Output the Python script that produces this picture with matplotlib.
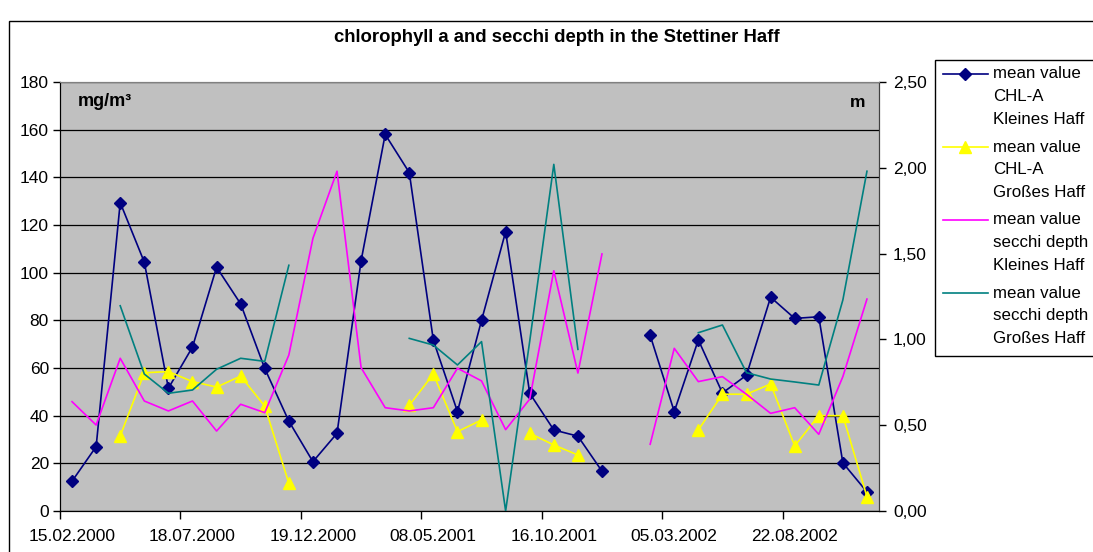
import numpy as np
import matplotlib
matplotlib.use('Agg')
import matplotlib.pyplot as plt
from matplotlib.lines import Line2D
from matplotlib.patches import Rectangle
from matplotlib.ticker import FuncFormatter

plt.rcParams['font.family'] = ['Liberation Sans', 'DejaVu Sans']

nan = np.nan

# monthly samples, only every 5th date is labelled on the axis
tick_labels = ['15.02.2000', '18.07.2000', '19.12.2000', '08.05.2001',
               '16.10.2001', '05.03.2002', '22.08.2002']

# mg/m3 (left axis)
chl_kleines = [12.5, 27, 129.4, 104.4, 51.5, 68.8, 102.3, 86.9, 59.8, 37.7,
               20.7, 32.6, 105, 158, 142, 71.6, 41.7, 80, 117.2, 49.4,
               34, 31.4, 16.7, nan, 73.7, 41.7, 71.8, 49.5, 57, 89.7,
               80.8, 81.5, 20.2, 8]
chl_grosses = [nan, nan, 31.5, 58, 58.5, 54.3, 52, 56.6, 44, 11.6,
               nan, nan, nan, nan, 44.3, 57.5, 33.3, 38.2, nan, 32.6,
               27.7, 23.5, nan, nan, nan, nan, 34, 49, 49, 53.3,
               27.3, 40, 40, 6]

# m (right axis)
secchi_kleines = [0.637, 0.501, 0.89, 0.641, 0.583, 0.641, 0.466, 0.622, 0.573, 0.909,
                  1.589, 1.98, 0.835, 0.602, 0.583, 0.602, 0.832, 0.758, 0.474, 0.652,
                  1.40, 0.804, 1.498, nan, 0.389, 0.948, 0.754, 0.783, 0.68, 0.569,
                  0.602, 0.447, 0.783, 1.235]
secchi_grosses = [nan, nan, 1.196, 0.798, 0.686, 0.705, 0.826, 0.89, 0.872, 1.432,
                  nan, nan, nan, nan, 1.006, 0.967, 0.851, 0.987, 0.0, 0.99,
                  2.02, 0.942, nan, nan, nan, nan, 1.039, 1.084, 0.806, 0.769,
                  0.752, 0.734, 1.23, 1.98]

W, H = 1093, 552


def fx(px):
    return px / W


def fy(py):
    return 1 - py / H


fig = plt.figure(figsize=(W / 100, H / 100), dpi=100)
fig.patch.set_facecolor('white')

# outer chart border (runs off the right and bottom edge)
fig.add_artist(Rectangle((fx(9), -0.1), 1.2, fy(21) + 0.1, transform=fig.transFigure,
                         fill=False, edgecolor='black', linewidth=1.0))

ax1 = fig.add_axes([fx(60), fy(511), fx(879) - fx(60), fy(82) - fy(511)])
ax1.set_facecolor('#C0C0C0')
ax2 = ax1.twinx()

x = np.arange(len(chl_kleines))

ax1.plot(x, chl_kleines, color='#000080', linewidth=1.2, marker='D', markersize=6)
ax1.plot(x, chl_grosses, color='#FFFF00', linewidth=1.2, marker='^', markersize=8)
ax2.plot(x, secchi_kleines, color='#FF00FF', linewidth=1.2)
ax2.plot(x, secchi_grosses, color='#008080', linewidth=1.2)

ax1.set_xlim(-0.5, len(x) - 0.5)
ax1.set_ylim(0, 180)
ax2.set_ylim(0, 2.5)

ax1.set_yticks(np.arange(0, 181, 20))
ax2.set_yticks(np.arange(0, 2.51, 0.5))
ax2.yaxis.set_major_formatter(FuncFormatter(lambda v, p: '{:.2f}'.format(v).replace('.', ',')))

# tick marks between categories, labels on categories
ax1.set_xticks(np.arange(-0.5, len(x) - 1, 5))
ax1.set_xticklabels([])
ax1.set_xticks(np.arange(0, len(x), 5), minor=True)
ax1.set_xticklabels(tick_labels, minor=True)
ax1.tick_params(axis='x', which='major', direction='out', length=6, width=1)
ax1.tick_params(axis='x', which='minor', length=0, pad=13, labelsize=12.5)
ax1.tick_params(axis='y', direction='out', length=5, width=1, pad=3, labelsize=12.5)
ax2.tick_params(axis='y', direction='out', length=5, width=1, pad=5, labelsize=12.5)

ax1.set_axisbelow(True)
ax1.yaxis.grid(True, color='black', linewidth=0.9)

for ax in (ax1, ax2):
    ax.spines['top'].set_color('#808080')
    ax.spines['right'].set_color('#404040')
    ax.spines['left'].set_color('black')
    ax.spines['bottom'].set_color('black')

ax1.text(0.022, 0.955, 'mg/m³', transform=ax1.transAxes, fontsize=13,
         fontweight='bold', va='center', ha='left')
ax1.text(0.983, 0.952, 'm', transform=ax1.transAxes, fontsize=12.5,
         fontweight='bold', va='center', ha='right')

fig.text(fx(557), fy(38), 'chlorophyll a and secchi depth in the Stettiner Haff',
         ha='center', va='center', fontsize=13.3, fontweight='bold')

# legend, drawn by hand so the key sits on the first text line
fig.add_artist(Rectangle((fx(935), fy(356)), 0.3, fy(60) - fy(356), transform=fig.transFigure,
                         fill=True, facecolor='white', edgecolor='black', linewidth=1.0))
legend_items = [
    ('#000080', 'D', 6, ['mean value', 'CHL-A', 'Kleines Haff']),
    ('#FFFF00', '^', 8, ['mean value', 'CHL-A', 'Großes Haff']),
    ('#FF00FF', None, 0, ['mean value', 'secchi depth', 'Kleines Haff']),
    ('#008080', None, 0, ['mean value', 'secchi depth', 'Großes Haff']),
]
y0 = 74
for color, marker, ms, lines in legend_items:
    fig.add_artist(Line2D([fx(943), fx(988)], [fy(y0), fy(y0)], color=color,
                          linewidth=1.2, transform=fig.transFigure))
    if marker:
        fig.add_artist(Line2D([fx(965)], [fy(y0)], color=color, marker=marker,
                              markersize=ms, transform=fig.transFigure))
    for i, t in enumerate(lines):
        fig.text(fx(993), fy(y0 + i * 22.6), t, fontsize=12.2, va='center', ha='left')
    y0 += 73

fig.savefig('out.png', dpi=100)
